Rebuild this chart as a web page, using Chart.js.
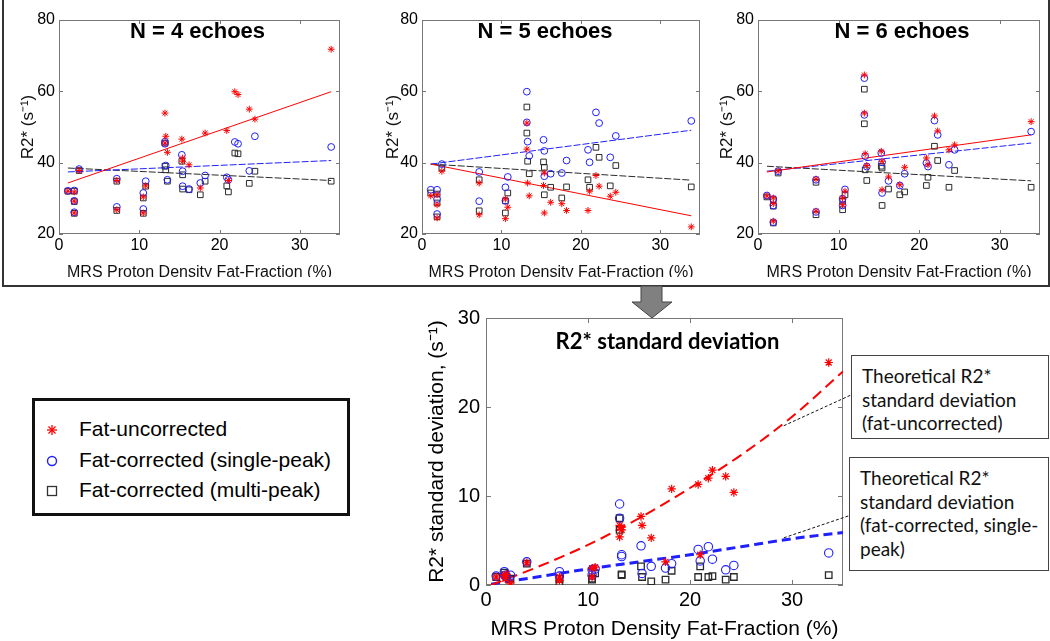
<!DOCTYPE html>
<html>
<head>
<meta charset="utf-8">
<script src="https://cdn.jsdelivr.net/npm/chart.js@4.4.1/dist/chart.umd.min.js"></script>
<style>
body { margin: 0; background: #fff; }
#page { position: relative; width: 1050px; height: 641px; overflow: hidden; font-family: "Liberation Sans", Arial, sans-serif; }
#page canvas { position: absolute; }
#topbox { position: absolute; left: 2px; top: -2px; width: 1044px; height: 285px; border: 2px solid #333; }
#legend { position: absolute; left: 32px; top: 398px; width: 312px; height: 112px; border: 3px solid #111; background: #fff; }
#legend .row { position: absolute; left: 0; height: 26px; line-height: 26px; font-size: 21px; color: #000; white-space: nowrap; }
#legend svg { position: absolute; left: 11px; top: 8px; }
#legend span { position: absolute; left: 44px; top: 0; }
.note { position: absolute; border: 1.5px solid #444; background: #fff; font-family: Lato, "Open Sans", sans-serif; font-size: 19px; color: #111; line-height: 23.5px; padding: 8px 0 0 10px; box-sizing: border-box; white-space: nowrap; }
#arrow { position: absolute; left: 0; top: 0; }
</style>
</head>
<body>
<div id="page">
  <canvas id="n4" width="345" height="277" style="left:0px;top:0px"></canvas>
  <canvas id="n5" width="360" height="277" style="left:345px;top:0px"></canvas>
  <canvas id="n6" width="342" height="277" style="left:705px;top:0px"></canvas>
  <div id="topbox"></div>
  <svg id="arrow" width="1050" height="330">
    <polygon points="641,286 662,286 662,302 672,302 652,318 632,302 641,302" fill="#808080" stroke="#444" stroke-width="1"/>
  </svg>
  <canvas id="sd" width="440" height="341" style="left:420px;top:300px"></canvas>
  <div id="legend">
    <div class="row" style="top:15px">
      <svg width="12" height="12"><g stroke="#ff0000" stroke-width="1.3"><line x1="6" y1="1" x2="6" y2="11"/><line x1="1" y1="6" x2="11" y2="6"/><line x1="2.5" y1="2.5" x2="9.5" y2="9.5"/><line x1="9.5" y1="2.5" x2="2.5" y2="9.5"/></g></svg>
      <span>Fat-uncorrected</span>
    </div>
    <div class="row" style="top:46px">
      <svg width="12" height="12"><circle cx="6" cy="6" r="4.5" fill="none" stroke="#1f1fff" stroke-width="1.4"/></svg>
      <span>Fat-corrected (single-peak)</span>
    </div>
    <div class="row" style="top:76px">
      <svg width="12" height="12"><rect x="1.5" y="1.5" width="9" height="9" fill="none" stroke="#333" stroke-width="1.3"/></svg>
      <span>Fat-corrected (multi-peak)</span>
    </div>
  </div>
  <div class="note" style="left:851px;top:355px;width:198px;height:84px">Theoretical R2*<br>standard deviation<br>(fat-uncorrected)</div>
  <div class="note" style="left:849px;top:457px;width:200px;height:114px">Theoretical R2*<br>standard deviation<br>(fat-corrected, single-<br>peak)</div>
</div>

<script>
// fat fraction (%) of each subject, shared by the three echo panels
var fatFraction = [1.1, 1.9, 1.9, 1.9, 2.5, 7.2, 7.2, 10.5, 10.5, 10.8, 13.2, 13.2, 13.3, 13.5, 15.3, 15.4, 15.4, 16.2, 17.6, 18.2, 20.9, 21.1, 21.9, 22.3, 23.7, 24.4, 33.9];

// N = 4 echoes
var r2N4Uncorr = [32.0, 31.8, 29.2, 25.9, 37.8, 35.0, 26.8, 30.4, 25.9, 33.5, 53.9, 45.5, 47.4, 42.9, 46.6, 41.3, 40.4, 39.4, 32.9, 48.3, 49.0, 35.0, 59.9, 59.1, 55.0, 52.2, 71.8];
var r2N4Single = [32.1, 32.2, 29.3, 26.1, 38.2, 35.5, 27.6, 31.5, 27.0, 34.8, 45.9, 45.3, 39.2, 35.2, 42.2, 37.6, 33.4, 32.6, 34.3, 36.4, 35.9, 35.2, 45.8, 45.3, 37.7, 47.4, 44.4];
var r2N4Multi = [32.0, 32.0, 29.1, 25.8, 37.8, 34.8, 26.6, 30.1, 25.8, 33.4, 45.5, 39.0, 38.0, 34.8, 40.4, 36.6, 32.6, 32.4, 31.0, 34.8, 33.5, 31.8, 42.7, 42.5, 34.2, 37.6, 34.8];

// N = 5 echoes
var r2N5Uncorr = [30.7, 31.0, 28.2, 24.5, 37.6, 34.3, 25.4, 29.8, 24.3, 27.5, 51.1, 43.8, 34.3, 30.7, 33.6, 37.1, 25.9, 28.9, 28.5, 26.6, 26.6, 32.0, 36.4, 33.4, 30.6, 31.7, 22.0];
var r2N5Single = [32.4, 32.4, 29.8, 25.6, 39.6, 37.4, 29.2, 33.1, 29.3, 36.0, 59.9, 51.3, 45.9, 41.9, 46.4, 43.3, 36.2, 36.9, 37.1, 40.6, 43.6, 40.1, 54.1, 51.1, 41.5, 47.5, 51.7];
var r2N5Multi = [31.5, 31.2, 28.7, 24.8, 38.5, 35.2, 26.5, 29.3, 25.9, 31.5, 55.6, 48.3, 40.4, 36.9, 40.2, 38.7, 31.0, 33.1, 30.1, 33.2, 35.2, 33.1, 44.3, 41.5, 33.5, 39.2, 33.2];

// N = 6 echoes
var r2N6Uncorr = [30.7, 30.1, 28.5, 23.6, 37.7, 35.4, 26.4, 30.1, 28.2, 32.0, 64.6, 53.9, 42.5, 39.2, 43.2, 40.4, 32.4, 36.0, 33.8, 38.7, 41.3, 39.4, 53.1, 48.9, 43.6, 45.0, 51.5];
var r2N6Single = [30.8, 29.8, 28.0, 23.3, 37.6, 35.2, 26.2, 29.9, 28.0, 32.5, 63.7, 53.4, 41.8, 38.9, 42.7, 40.1, 31.5, 34.9, 33.6, 36.9, 39.9, 38.9, 51.8, 47.8, 39.4, 43.6, 48.7];
var r2N6Multi = [30.4, 29.6, 27.8, 23.1, 37.1, 34.5, 25.4, 29.2, 26.8, 31.0, 60.6, 50.9, 38.0, 35.0, 39.0, 38.5, 28.0, 32.6, 31.0, 31.8, 33.6, 35.9, 44.6, 40.6, 33.1, 37.8, 33.1];

// regression lines (value at first and last fat fraction)
var fitX = [1.1, 33.9];
var fitN4Uncorr = [34.3, 59.9], fitN4Single = [37.4, 40.6], fitN4Multi = [38.5, 35.0];
var fitN5Uncorr = [39.6, 25.1], fitN5Single = [39.6, 49.1], fitN5Multi = [39.6, 35.1];
var fitN6Uncorr = [37.4, 47.8], fitN6Single = [37.6, 45.5], fitN6Multi = [39.0, 34.9];

// R2* standard deviation panel
var sdX = [1.0, 1.8, 1.9, 2.0, 2.4, 4.0, 7.2, 7.2, 10.4, 10.4, 10.7, 13.1, 13.1, 13.3, 13.3, 15.2, 15.3, 16.2, 17.6, 18.2, 20.8, 21.0, 21.8, 22.2, 23.5, 24.3, 33.6];
var sdUncorr = [0.9, 1.1, 0.7, 1.2, 0.2, 2.5, 0.9, 0.5, 1.9, 0.9, 2.0, 6.7, 5.4, 6.5, 6.2, 7.7, 6.7, 5.3, 2.6, 10.8, 11.3, 3.4, 12.0, 12.9, 12.2, 10.4, 25.0];
var sdSingle = [1.0, 1.5, 1.1, 0.9, 1.1, 2.6, 1.5, 1.0, 1.7, 1.1, 1.8, 9.1, 7.5, 3.4, 3.2, 4.4, 1.3, 2.1, 1.9, 2.4, 4.0, 2.7, 4.3, 2.9, 1.7, 2.2, 3.6];
var sdMulti = [0.9, 1.4, 1.1, 0.9, 0.7, 2.4, 0.7, 0.3, 0.7, 0.6, 1.3, 7.5, 6.2, 1.2, 1.1, 2.1, 0.9, 0.4, 0.6, 1.6, 0.9, 2.1, 0.9, 1.0, 0.6, 0.9, 1.1];

// theoretical curves
var theoryX = [0.5, 5, 10, 15, 20, 25, 30, 35];
var theoryUncorr = [0.0, 2.0, 4.5, 7.5, 10.9, 14.6, 18.9, 24.0];
var theorySingle = [0.1, 0.9, 1.8, 2.6, 3.4, 4.3, 5.2, 5.9];

// where the dashed leader lines leave the curves
var leaderFrom = [[29.2, 17.9], [29.2, 5.3]];

var xTicks = [0, 10, 20, 30];
var r2Ticks = [20, 40, 60, 80];
var sdTicks = [0, 10, 20, 30];

var RED = '#ff0000', BLUE = '#1f1fff', BLACK = '#2a2a2a';
var ARIAL = '"Liberation Sans", Arial, sans-serif';

function pts(xs, ys) {
  return xs.map(function(x, i) { return { x: x, y: ys[i] }; });
}

function setTicks(list) {
  return function(scale) {
    scale.ticks = list.map(function(v) { return { value: v }; });
  };
}

// MATLAB style box with inward ticks
var framePlugin = {
  id: 'frame',
  beforeDatasetsDraw: function(chart, args, opts) {
    var a = chart.chartArea, ctx = chart.ctx;
    var tl = opts.tick || 4;
    var sx = chart.scales.x, sy = chart.scales.y;
    ctx.save();
    ctx.strokeStyle = '#777';
    ctx.lineWidth = 1;
    ctx.strokeRect(a.left + 0.5, a.top + 0.5, a.right - a.left - 1, a.bottom - a.top - 1);
    ctx.beginPath();
    sx.ticks.forEach(function(t) {
      var px = Math.round(sx.getPixelForValue(t.value)) + 0.5;
      ctx.moveTo(px, a.bottom); ctx.lineTo(px, a.bottom - tl);
      ctx.moveTo(px, a.top); ctx.lineTo(px, a.top + tl);
    });
    sy.ticks.forEach(function(t) {
      var py = Math.round(sy.getPixelForValue(t.value)) + 0.5;
      ctx.moveTo(a.left, py); ctx.lineTo(a.left + tl, py);
      ctx.moveTo(a.right, py); ctx.lineTo(a.right - tl, py);
    });
    ctx.stroke();
    ctx.restore();
  }
};

var panelTitle = {
  id: 'panelTitle',
  afterDraw: function(chart, args, opts) {
    if (!opts.text) return;
    var a = chart.chartArea, ctx = chart.ctx;
    ctx.save();
    ctx.font = opts.font;
    ctx.fillStyle = '#000';
    ctx.textAlign = 'center';
    ctx.textBaseline = 'middle';
    ctx.fillText(opts.text, (a.left + a.right) / 2 + (opts.dx || 0), a.top + opts.dy);
    ctx.restore();
  }
};

var leaderPlugin = {
  id: 'leaders',
  afterDatasetsDraw: function(chart, args, opts) {
    if (!opts.on) return;
    var ctx = chart.ctx, sx = chart.scales.x, sy = chart.scales.y;
    var ends = [[431, 95], [431, 215]];
    ctx.save();
    ctx.strokeStyle = '#111';
    ctx.lineWidth = 1;
    ctx.setLineDash([3, 2]);
    ctx.beginPath();
    leaderFrom.forEach(function(p, i) {
      ctx.moveTo(sx.getPixelForValue(p[0]), sy.getPixelForValue(p[1]));
      ctx.lineTo(ends[i][0], ends[i][1]);
    });
    ctx.stroke();
    ctx.restore();
  }
};

function scatterSet(ys, xs, style, color, r, w) {
  return {
    data: pts(xs, ys),
    pointStyle: style,
    pointRadius: r,
    pointBorderColor: color,
    pointBackgroundColor: 'rgba(0,0,0,0)',
    pointBorderWidth: w,
    borderColor: color,
    showLine: false
  };
}

function lineSet(xs, ys, color, width, dash, smooth) {
  return {
    data: pts(xs, ys),
    showLine: true,
    borderColor: color,
    borderWidth: width,
    borderDash: dash,
    pointRadius: 0,
    fill: false,
    cubicInterpolationMode: smooth ? 'monotone' : 'default',
    tension: smooth ? 0.4 : 0
  };
}

function makeEchoPanel(id, title, titleDx, unc, single, multi, fU, fS, fM, yAxisW, padRight, yTitlePad) {
  var ctx = document.getElementById(id).getContext('2d');
  return new Chart(ctx, {
    type: 'scatter',
    data: {
      datasets: [
        scatterSet(unc, fatFraction, 'star', RED, 3.4, 1),
        scatterSet(single, fatFraction, 'circle', BLUE, 3.4, 1),
        scatterSet(multi, fatFraction, 'rect', BLACK, 4, 1),
        lineSet(fitX, fU, RED, 1, [], false),
        lineSet(fitX, fS, BLUE, 1, [7, 2], false),
        lineSet(fitX, fM, BLACK, 1, [7, 2], false)
      ]
    },
    options: {
      responsive: false,
      animation: false,
      devicePixelRatio: 1,
      layout: { padding: { top: 20, right: padRight, left: 0, bottom: 0 } },
      plugins: {
        legend: { display: false },
        tooltip: { enabled: false },
        frame: { tick: 4 },
        panelTitle: { text: title, font: 'bold 22px ' + ARIAL, dy: 12, dx: titleDx }
      },
      scales: {
        x: {
          type: 'linear', min: 0, max: 35,
          afterBuildTicks: setTicks(xTicks),
          afterFit: function(s) { s.height = 43; },
          grid: { display: false, drawTicks: false },
          border: { display: false },
          ticks: { color: '#000', padding: 2, font: { family: ARIAL, size: 16 } },
          title: { display: true, text: 'MRS Proton Density Fat-Fraction (%)', color: '#111',
                   padding: { top: 0, bottom: -5 }, font: { family: ARIAL, size: 16 } }
        },
        y: {
          type: 'linear', min: 20, max: 80,
          afterBuildTicks: setTicks(r2Ticks),
          afterFit: function(s) { s.width = yAxisW; },
          grid: { display: false, drawTicks: false },
          border: { display: false },
          ticks: { color: '#000', padding: 4, font: { family: ARIAL, size: 16 } },
          title: { display: true, text: 'R2* (s\u207B\u00B9)', color: '#111',
                   padding: { top: yTitlePad, bottom: 0 }, font: { family: ARIAL, size: 17 } }
        }
      }
    },
    plugins: [framePlugin, panelTitle]
  });
}

function makeSdPanel() {
  var ctx = document.getElementById('sd').getContext('2d');
  return new Chart(ctx, {
    type: 'scatter',
    data: {
      datasets: [
        scatterSet(sdUncorr, sdX, 'star', RED, 4.2, 1.2),
        scatterSet(sdSingle, sdX, 'circle', BLUE, 4.2, 1.1),
        scatterSet(sdMulti, sdX, 'rect', BLACK, 4.6, 1.3),
        lineSet(theoryX, theoryUncorr, RED, 2, [11, 6], true),
        lineSet(theoryX, theorySingle, BLUE, 3, [9, 5], true)
      ]
    },
    options: {
      responsive: false,
      animation: false,
      devicePixelRatio: 1,
      layout: { padding: { top: 18, right: 17, left: 0, bottom: 0 } },
      plugins: {
        legend: { display: false },
        tooltip: { enabled: false },
        frame: { tick: 5 },
        leaders: { on: true },
        panelTitle: { text: 'R2* standard deviation', font: 'bold 22px Lato, "Open Sans", sans-serif', dy: 24, dx: 3 }
      },
      scales: {
        x: {
          type: 'linear', min: 0, max: 35,
          afterBuildTicks: setTicks(xTicks),
          afterFit: function(s) { s.height = 56; },
          grid: { display: false, drawTicks: false },
          border: { display: false },
          ticks: { color: '#000', padding: 3, font: { family: ARIAL, size: 20 } },
          title: { display: true, text: 'MRS Proton Density Fat-Fraction (%)', color: '#000',
                   padding: { top: 0, bottom: -1 }, font: { family: ARIAL, size: 21 } }
        },
        y: {
          type: 'linear', min: 0, max: 30,
          afterBuildTicks: setTicks(sdTicks),
          afterFit: function(s) { s.width = 66; },
          grid: { display: false, drawTicks: false },
          border: { display: false },
          ticks: { color: '#000', padding: 6, font: { family: ARIAL, size: 20 } },
          title: { display: true, text: 'R2* standard deviation, (s\u207B\u00B9)', color: '#000',
                   padding: { top: 5, bottom: 0 }, font: { family: ARIAL, size: 21 } }
        }
      }
    },
    plugins: [framePlugin, panelTitle, leaderPlugin]
  });
}

makeEchoPanel('n4', 'N = 4 echoes', -2, r2N4Uncorr, r2N4Single, r2N4Multi, fitN4Uncorr, fitN4Single, fitN4Multi, 59, 4, 18);
makeEchoPanel('n5', 'N = 5 echoes', -16, r2N5Uncorr, r2N5Single, r2N5Multi, fitN5Uncorr, fitN5Single, fitN5Multi, 77, 2, 38);
makeEchoPanel('n6', 'N = 6 echoes', 3, r2N6Uncorr, r2N6Single, r2N6Multi, fitN6Uncorr, fitN6Single, fitN6Multi, 53, 7, 12);
makeSdPanel();
</script>
</body>
</html>
